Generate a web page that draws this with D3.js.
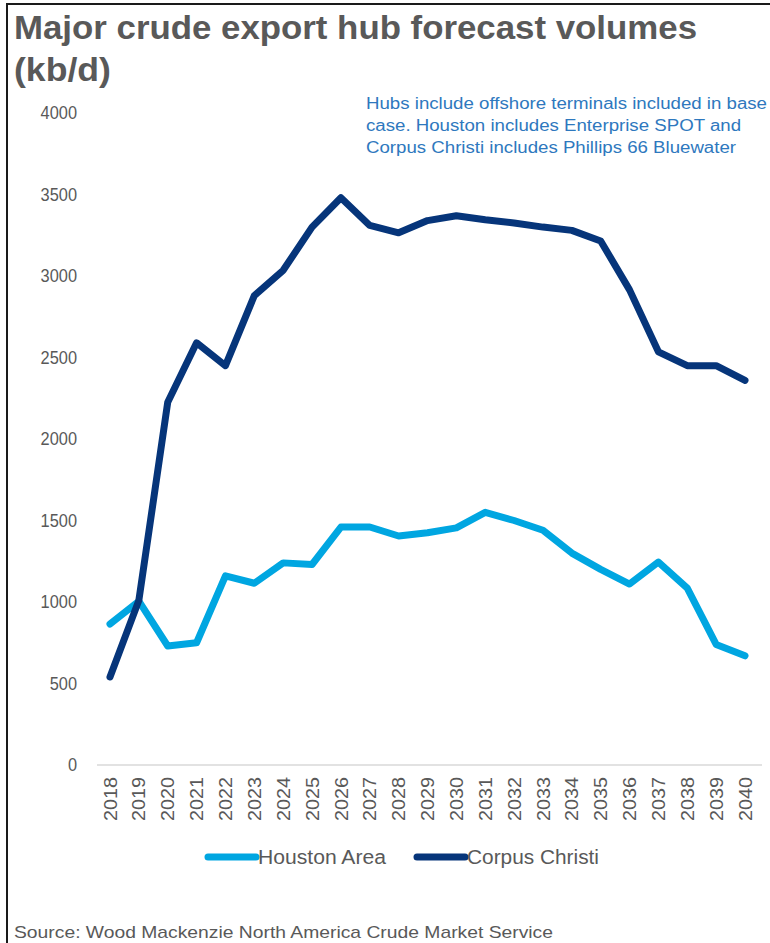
<!DOCTYPE html>
<html>
<head>
<meta charset="utf-8">
<script src="https://cdn.jsdelivr.net/npm/d3@7"></script>
<style>
  html, body { margin: 0; padding: 0; background: #fff; }
  svg { display: block; font-family: "Liberation Sans", Arial, sans-serif; }
</style>
</head>
<body>
<svg id="chart" width="770" height="943"></svg>
<script>
const years = ["2018","2019","2020","2021","2022","2023","2024","2025","2026","2027","2028","2029","2030","2031","2032","2033","2034","2035","2036","2037","2038","2039","2040"];
const houstonArea = [865,1005,730,750,1160,1115,1240,1230,1460,1460,1405,1425,1455,1550,1500,1440,1300,1200,1110,1245,1085,740,670];
const corpusChristi = [540,1010,2225,2590,2450,2880,3035,3300,3480,3310,3265,3340,3370,3345,3325,3300,3280,3215,2915,2535,2450,2450,2360];
const yTicks = [0,500,1000,1500,2000,2500,3000,3500,4000];
const seriesNames = ["Houston Area","Corpus Christi"];
const seriesColors = ["#00A6E1","#06357A"];
const titleLines = ["Major crude export hub forecast volumes","(kb/d)"];
const noteLines = ["Hubs include offshore terminals included in base","case. Houston includes Enterprise SPOT and","Corpus Christi includes Phillips 66 Bluewater"];
const sourceText = "Source: Wood Mackenzie North America Crude Market Service";

const svg = d3.select("#chart");
const grey = "#595959";

// frame (top and left edges)
svg.append("line").attr("x1",6).attr("x2",770).attr("y1",4).attr("y2",4).attr("stroke","#1a1a1a").attr("stroke-width",2);
svg.append("line").attr("x1",7).attr("x2",7).attr("y1",3).attr("y2",943).attr("stroke","#1a1a1a").attr("stroke-width",2);

// title
const titleY = [39, 81], titleW = [683, 97];
titleLines.forEach((t,i)=>{
  svg.append("text").attr("x",14).attr("y",titleY[i])
    .attr("font-size",34).attr("font-weight","bold").attr("fill",grey)
    .attr("textLength",titleW[i]).attr("lengthAdjust","spacingAndGlyphs")
    .text(t);
});

// annotation
const noteY = [109,131,153], noteW = [401, 375, 370];
noteLines.forEach((t,i)=>{
  svg.append("text").attr("x",366).attr("y",noteY[i])
    .attr("font-size",16).attr("fill","#2E78BE")
    .attr("textLength",noteW[i]).attr("lengthAdjust","spacingAndGlyphs")
    .text(t);
});

const x = d3.scalePoint().domain(years).range([110,745]);
const y = d3.scaleLinear().domain([0,4000]).range([765,113]);

// baseline
svg.append("line").attr("x1",97).attr("x2",762).attr("y1",y(0)).attr("y2",y(0))
  .attr("stroke","#d9d9d9").attr("stroke-width",1.5);

// y axis
const yAxis = svg.append("g").attr("transform","translate(82,0)")
  .call(d3.axisLeft(y).tickValues(yTicks).tickSize(0).tickPadding(5).tickFormat(d3.format("d")));
yAxis.select(".domain").remove();
yAxis.selectAll("text").attr("font-size",17.5).attr("fill",grey).attr("font-family","Liberation Sans, Arial, sans-serif")
  .attr("textLength", d => String(d).length * 9.1).attr("lengthAdjust","spacingAndGlyphs");

// x axis
const xAxis = svg.append("g").attr("transform",`translate(0,${y(0)})`)
  .call(d3.axisBottom(x).tickSize(0).tickPadding(0));
xAxis.select(".domain").remove();
xAxis.selectAll("text")
  .attr("font-size",17.5).attr("fill",grey).attr("font-family","Liberation Sans, Arial, sans-serif")
  .attr("transform","rotate(-90)")
  .attr("text-anchor","end")
  .attr("x",-12).attr("y",0).attr("dy","0.35em")
  .attr("textLength",44).attr("lengthAdjust","spacingAndGlyphs");

// lines
const line = d3.line().x((d,i)=>x(years[i])).y(d=>y(d));
[houstonArea, corpusChristi].forEach((s,k)=>{
  svg.append("path").datum(s).attr("d",line)
    .attr("fill","none").attr("stroke",seriesColors[k]).attr("stroke-width",7)
    .attr("stroke-linejoin","round").attr("stroke-linecap","round");
});

// legend
const legX = [205, 414], legTextW = [128, 132];
seriesNames.forEach((n,k)=>{
  const g = svg.append("g").attr("transform",`translate(${legX[k]},857)`);
  g.append("line").attr("x1",3).attr("x2",51).attr("y1",0).attr("y2",0)
    .attr("stroke",seriesColors[k]).attr("stroke-width",7).attr("stroke-linecap","round");
  g.append("text").attr("x",53).attr("y",0).attr("dy","0.36em")
    .attr("font-size",20).attr("fill",grey)
    .attr("textLength",legTextW[k]).attr("lengthAdjust","spacingAndGlyphs")
    .text(n);
});

// source
svg.append("text").attr("x",14).attr("y",938).attr("font-size",17).attr("fill",grey)
  .attr("textLength",539).attr("lengthAdjust","spacingAndGlyphs")
  .text(sourceText);
</script>
</body>
</html>
